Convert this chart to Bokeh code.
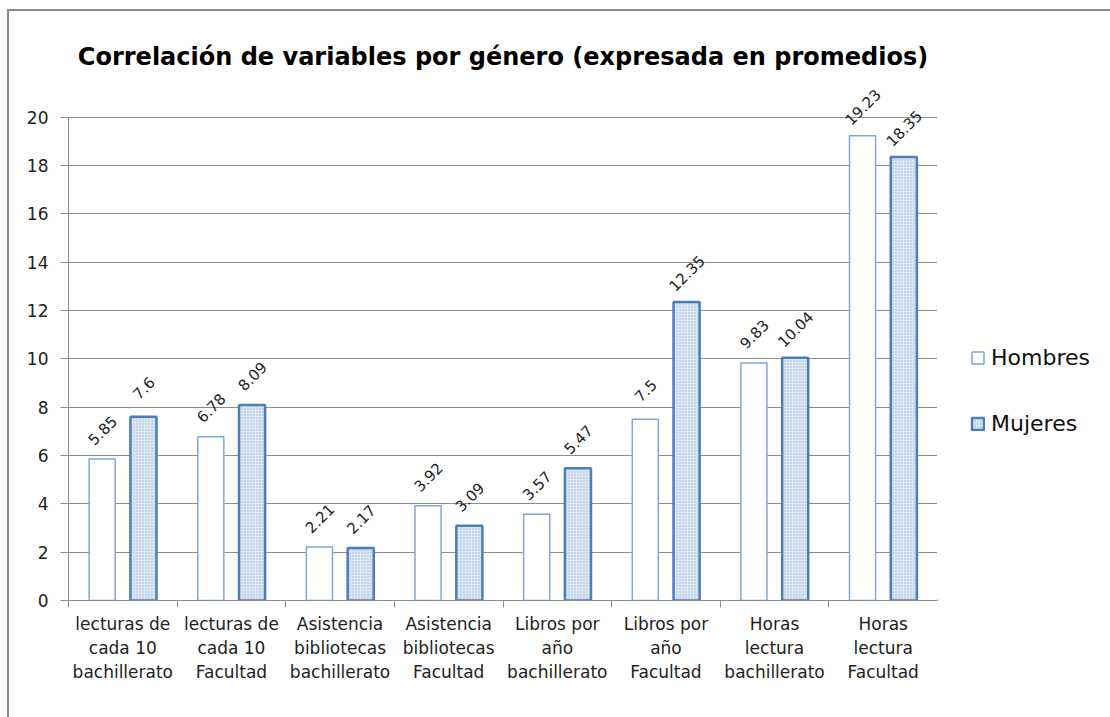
from bokeh.plotting import figure
from bokeh.layouts import row
from bokeh.models import (Range1d, FactorRange, ColumnDataSource, LabelSet, Legend, LegendItem,
                          Label, LinearAxis, CategoricalAxis, FixedTicker)
from bokeh.transform import dodge
from bokeh.core.properties import value
from bokeh.embed import file_html
from bokeh.resources import INLINE

categories = [
    "lecturas de\ncada 10\nbachillerato",
    "lecturas de\ncada 10\nFacultad",
    "Asistencia\nbibliotecas\nbachillerato",
    "Asistencia\nbibliotecas\nFacultad",
    "Libros por\naño\nbachillerato",
    "Libros por\naño\nFacultad",
    "Horas\nlectura\nbachillerato",
    "Horas\nlectura\nFacultad",
]
hombres = [5.85, 6.78, 2.21, 3.92, 3.57, 7.5, 9.83, 19.23]
mujeres = [7.6, 8.09, 2.17, 3.09, 5.47, 12.35, 10.04, 18.35]
series_names = ["Hombres", "Mujeres"]
title_text = "Correlación de variables por género (expresada en promedios)"
y_ticks = list(range(0, 21, 2))
y_max = 20

src = ColumnDataSource(dict(
    cat=categories,
    h=hombres,
    m=mujeres,
    h_txt=[str(v) for v in hombres],
    m_txt=[str(v) for v in mujeres],
))

FONT = "DejaVu Sans"
GRID = "#8e8e8e"
H_STYLE = dict(fill_color="white", line_color="#7ea8dc", line_width=1.5)
M_STYLE = dict(fill_color="#dde7f3", line_color="#4a7ebb", line_width=2.5,
               hatch_pattern="dot", hatch_color="#9db6da", hatch_scale=3, hatch_weight=1)

p = figure(width=928, height=706, x_range=FactorRange(factors=categories, range_padding=0),
           y_range=Range1d(0, 23.5), output_backend="svg", toolbar_location=None,
           x_axis_location=None, y_axis_location="left",
           min_border_left=59, min_border_right=0, min_border_top=21, min_border_bottom=117)
p.outline_line_color = None
p.background_fill_color = "white"
p.border_fill_color = "white"

# y axis
p.yaxis.ticker = FixedTicker(ticks=y_ticks)
p.yaxis.bounds = (0, y_max)
p.yaxis.axis_line_color = GRID
p.yaxis.major_tick_line_color = GRID
p.yaxis.major_tick_in = 0
p.yaxis.major_tick_out = 8
p.yaxis.minor_tick_line_color = None
p.yaxis.major_label_standoff = 12
p.yaxis.major_label_text_font = FONT
p.yaxis.major_label_text_font_size = "17px"
p.yaxis.major_label_text_color = "#222222"
p.ygrid.grid_line_color = GRID
p.ygrid.ticker = FixedTicker(ticks=y_ticks)
p.xgrid.grid_line_color = None

# x axis: separator ticks between categories
tick_axis = LinearAxis(ticker=FixedTicker(ticks=list(range(len(categories) + 1))),
                       major_label_text_font_size="1px", major_label_text_color=None,
                       major_label_standoff=0,
                       axis_line_color=GRID, major_tick_line_color=GRID,
                       major_tick_in=0, major_tick_out=7, minor_tick_line_color=None)
p.add_layout(tick_axis, "below")
cat_axis = CategoricalAxis(axis_line_color=None, major_tick_line_color=None,
                           major_label_standoff=0, major_label_text_font=FONT,
                           major_label_text_font_size="17px",
                           major_label_text_color="#222222")
p.add_layout(cat_axis, "below")

# bars
p.vbar(x=dodge("cat", -0.19, range=p.x_range), top="h", width=0.24, source=src, **H_STYLE)
p.vbar(x=dodge("cat", 0.19, range=p.x_range), top="m", width=0.24, source=src, **M_STYLE)

# data labels
for col, txt, off in (("h", "h_txt", -0.19), ("m", "m_txt", 0.19)):
    p.add_layout(LabelSet(x=dodge("cat", off, range=p.x_range), y=col, text=txt, source=src,
                          angle=45, angle_units="deg", text_align="center", text_baseline="middle",
                          y_offset=29, text_font=value(FONT), text_font_size="15px",
                          text_color="#222222"))

# title
p.add_layout(Label(x=len(categories) / 2, y=22.48, text=title_text, text_align="center",
                   text_baseline="middle", text_font=FONT, text_font_style="bold",
                   text_font_size="24px", text_color="#000000"))

# legend panel (separate figure on the right, sharing the bar styles;
# its proxy bars sit outside its visible range so only the legend shows)
lg = figure(width=173, height=706, x_range=Range1d(0, 1), y_range=Range1d(0, 1),
            output_backend="svg", toolbar_location=None, x_axis_location=None,
            y_axis_location=None, min_border=0)
lg.outline_line_color = None
lg.grid.grid_line_color = None
lh = lg.vbar(x=[-5], top=[-5], bottom=[-6], width=0.1, **H_STYLE)
lm = lg.vbar(x=[-5], top=[-5], bottom=[-6], width=0.1, **M_STYLE)
legend = Legend(items=[LegendItem(label=series_names[0], renderers=[lh]),
                       LegendItem(label=series_names[1], renderers=[lm])],
                location=(33, 164), padding=0, margin=0, spacing=41,
                glyph_width=15, glyph_height=15, label_height=25, label_standoff=6,
                label_text_font=FONT, label_text_font_size="22px", label_text_color="#111111",
                border_line_color=None, background_fill_alpha=0)
lg.add_layout(legend, "center")

layout = row(p, lg, spacing=0)
layout.styles = {"border-left": "2px solid #8a8a8a", "border-top": "2px solid #8a8a8a",
                 "margin-left": "7px", "margin-top": "9px"}

open("out.html", "w").write(file_html(layout, INLINE))
